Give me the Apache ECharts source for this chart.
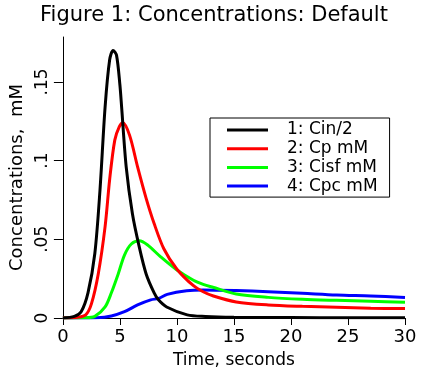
<!DOCTYPE html>
<html>
<head>
<meta charset="utf-8">
<script src="https://cdn.jsdelivr.net/npm/echarts@6/dist/echarts.min.js"></script>
<style>
  html, body { margin: 0; padding: 0; background: #fff; }
  #chart { width: 428px; height: 375px; }
</style>
</head>
<body>
<div id="chart"></div>
<script>
// values
const cinTime = [0, 1.0, 1.6, 2.2, 2.8, 3.25, 3.7, 4.1, 4.4, 4.7, 5.0, 5.15, 5.55, 6.1, 6.7, 7.3, 8.0, 8.4, 9.1, 10.9, 12.5, 15, 20, 25, 30]
const cinVal = [0, 0.001, 0.004, 0.016, 0.041, 0.081, 0.134, 0.164, 0.170, 0.167, 0.148, 0.134, 0.096, 0.066, 0.045, 0.028, 0.016, 0.0114, 0.007, 0.002, 0.001, 0.0005, 0.0003, 0.0002, 0.0002]

const cpTime = [0, 1.3, 2.0, 2.5, 3.1, 3.7, 4.1, 4.55, 4.95, 5.25, 5.85, 6.55, 7.3, 8.0, 8.85, 10.0, 11.45, 12.3, 13.2, 15.2, 18, 21, 24, 27, 30]
const cpVal = [0, 0.0005, 0.002, 0.009, 0.028, 0.058, 0.088, 0.113, 0.1215, 0.124, 0.116, 0.096, 0.076, 0.060, 0.044, 0.031, 0.0205, 0.0167, 0.014, 0.0102, 0.0083, 0.0074, 0.0068, 0.0062, 0.006]

const cisfTime = [0, 2.0, 2.8, 3.7, 4.25, 4.85, 5.4, 6.0, 6.7, 7.4, 8.55, 10.0, 11.45, 12.3, 13.15, 15.2, 18, 21, 24, 27, 30]
const cisfVal = [0, 0.0001, 0.001, 0.007, 0.016, 0.028, 0.040, 0.047, 0.049, 0.0465, 0.039, 0.0305, 0.024, 0.0214, 0.0195, 0.0152, 0.0131, 0.0119, 0.0112, 0.0106, 0.010]

const cpcTime = [0, 3, 4.25, 5.4, 6.55, 7.7, 8.4, 9.15, 10.85, 12.3, 15.2, 18, 21, 24, 27, 30]
const cpcVal = [0, 0.0002, 0.0013, 0.004, 0.0083, 0.0115, 0.0125, 0.015, 0.0173, 0.0178, 0.0174, 0.0167, 0.0157, 0.0146, 0.014, 0.0131]

const seriesNames = ['1: Cin/2', '2: Cp mM', '3: Cisf mM', '4: Cpc mM']
const seriesColors = ['#000000', '#ff0000', '#00ff00', '#0000ff']
const yTicks = [0, 0.05, 0.1, 0.15]

const font = 'DejaVu Sans'

function pairs (t, v) {
  return t.map((x, i) => [x, v[i]])
}

const chart = echarts.init(document.getElementById('chart'))
const lists = [pairs(cinTime, cinVal), pairs(cpTime, cpVal), pairs(cisfTime, cisfVal), pairs(cpcTime, cpcVal)]

const option = {
  backgroundColor: '#fff',
  animation: false,
  title: {
    text: 'Figure 1: Concentrations: Default',
    left: 'center',
    top: 0,
    textStyle: { fontFamily: font, fontSize: 21, fontWeight: 'normal', color: '#000' }
  },
  legend: {
    orient: 'vertical',
    left: 210,
    top: 118,
    align: 'left',
    padding: [3, 12, 2, 17],
    icon: 'rect',
    itemWidth: 41,
    itemHeight: 3,
    itemGap: 0.7,
    borderColor: '#000',
    borderWidth: 1,
    data: seriesNames,
    textStyle: { fontFamily: font, fontSize: 17, lineHeight: 18, color: '#000', padding: [0, 0, 0, 14] }
  },
  grid: { left: 57, right: 23, top: 37, bottom: 57 },
  xAxis: {
    type: 'value',
    min: 0,
    max: 30,
    interval: 5,
    name: 'Time, seconds',
    nameLocation: 'middle',
    nameGap: 34,
    nameTextStyle: { fontFamily: font, fontSize: 17, color: '#000' },
    axisLine: { lineStyle: { color: '#000', width: 1 } },
    axisTick: { length: 7, lineStyle: { color: '#000' } },
    axisLabel: { fontFamily: font, fontSize: 18, color: '#000', margin: 10 },
    splitLine: { show: false }
  },
  yAxis: {
    type: 'value',
    min: 0,
    max: 0.1785,
    name: 'Concentrations,  mM',
    nameLocation: 'middle',
    nameRotate: 90,
    nameGap: 20,
    nameTextStyle: { fontFamily: font, fontSize: 18, color: '#000' },
    axisLine: { show: true, lineStyle: { color: '#000', width: 1 } },
    axisTick: { show: true, length: 9, customValues: yTicks, lineStyle: { color: '#000' } },
    axisLabel: {
      rotate: 90,
      customValues: yTicks,
      fontFamily: font,
      fontSize: 17,
      color: '#000',
      margin: 12,
      formatter: v => String(v).replace(/^0\./, '.')
    },
    splitLine: { show: false }
  },
  series: lists.map((d, i) => ({
    name: seriesNames[i],
    type: 'line',
    data: d,
    smooth: 0.3,
    symbol: 'none',
    lineStyle: { color: seriesColors[i], width: 3 },
    itemStyle: { color: seriesColors[i] },
    z: 10 - i
  }))
}

chart.setOption(option)
</script>
</body>
</html>
